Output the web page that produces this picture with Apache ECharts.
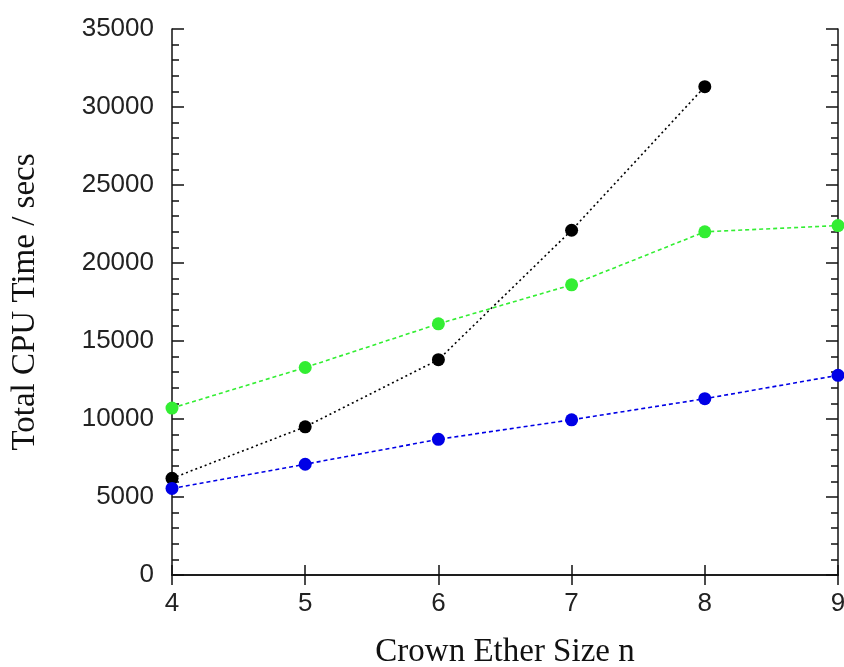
<!DOCTYPE html>
<html><head><meta charset="utf-8">
<script src="https://cdn.jsdelivr.net/npm/echarts@6/dist/echarts.min.js"></script>
<style>html,body{margin:0;padding:0;background:#fff}#c{width:844px;height:667px}</style>
</head><body><div id="c"></div>
<script>
const sizes = [4, 5, 6, 7, 8, 9];
const blackSeries = [6200, 9500, 13800, 22100, 31300, null];
const greenSeries = [10700, 13300, 16100, 18600, 22000, 22400];
const blueSeries = [5550, 7100, 8700, 9950, 11300, 12800];
const xTitle = 'Crown Ether Size n';
const yTitle = 'Total CPU Time / secs';

function pairs(vals){ return sizes.map((s,i)=>[s, vals[i]]).filter(p=>p[1]!==null); }

const chart = echarts.init(document.getElementById('c'));
const tickLabel = {fontFamily:'Liberation Sans, Arial, sans-serif', fontSize:26, color:'#222'};
function mkSeries(name, vals, color, dash){
  return {name, type:'line', data:pairs(vals), symbol:'circle', symbolSize:13,
    itemStyle:{color}, lineStyle:{color, width:1.6, type:dash}, z:3};
}
chart.setOption({
  animation:false,
  grid:{left:172, right:6, top:29, bottom:92, containLabel:false, outerBoundsMode:'none'},
  xAxis:[{type:'value', min:4, max:9, interval:1, position:'bottom',
      axisLine:{lineStyle:{color:'#111', width:1.5}},
      axisTick:{inside:true, length:10, lineStyle:{color:'#111', width:1.5}},
      axisLabel:Object.assign({margin:16, formatter:v=>String(v)}, tickLabel),
      splitLine:{show:false},
      name:xTitle, nameLocation:'middle', nameGap:61,
      nameTextStyle:{fontFamily:'Liberation Serif, Times New Roman, serif', fontSize:33, color:'#111'}},
    {type:'value', min:4, max:9, interval:1, position:'top',
      axisLine:{lineStyle:{color:'#111', width:1.5}},
      axisTick:{inside:true, length:10, lineStyle:{color:'#111', width:1.5}},
      axisLabel:{show:false}, splitLine:{show:false}}],
  yAxis:[{type:'value', min:0, max:35000, interval:5000, position:'left',
      axisLine:{show:true, lineStyle:{color:'#111', width:1.5}},
      axisTick:{show:true, inside:true, length:12, lineStyle:{color:'#111', width:1.5}},
      minorTick:{show:true, splitNumber:5, length:7, lineStyle:{color:'#111', width:1.5}},
      axisLabel:Object.assign({margin:18, formatter:v=>String(v)}, tickLabel),
      splitLine:{show:false},
      name:yTitle, nameLocation:'middle', nameGap:130, nameRotate:90,
      nameTextStyle:{fontFamily:'Liberation Serif, Times New Roman, serif', fontSize:33, color:'#111'}},
    {type:'value', min:0, max:35000, interval:5000, position:'right',
      axisLine:{show:true, lineStyle:{color:'#111', width:1.5}},
      axisTick:{show:true, inside:true, length:12, lineStyle:{color:'#111', width:1.5}},
      minorTick:{show:true, splitNumber:5, length:7, lineStyle:{color:'#111', width:1.5}},
      axisLabel:{show:false}, splitLine:{show:false}}],
  series:[
    mkSeries('black', blackSeries, '#000000', [2,3]),
    mkSeries('green', greenSeries, '#33ee33', [4,3]),
    mkSeries('blue', blueSeries, '#0000e6', [4,3])
  ]
});
</script></body></html>
